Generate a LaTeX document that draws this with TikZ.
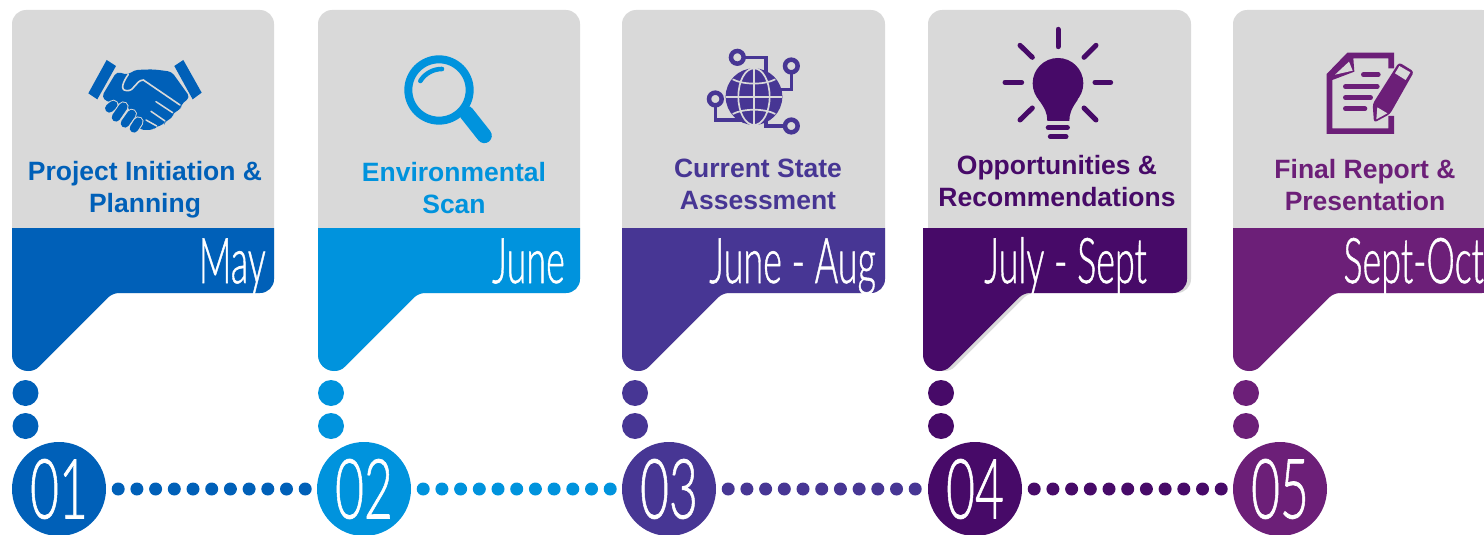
\documentclass[tikz,border=0pt]{standalone}
\usepackage{fontspec}
\usepackage{graphicx}
\setmainfont{Liberation Sans}
\newfontfamily\thinfont[FakeBold=1]{Lato Light}
\usepackage{xcolor}
\usepackage{tikz}
\definecolor{panelgray}{HTML}{D9D9D9}
\definecolor{stageA}{HTML}{0060B8}
\definecolor{stageB}{HTML}{0093DD}
\definecolor{stageC}{HTML}{473694}
\definecolor{stageD}{HTML}{470A68}
\definecolor{stageE}{HTML}{6C1F78}
\begin{document}
\begin{tikzpicture}[x=1pt,y=-1pt]
	\tikzstyle{titlenode}=[align=center,inner sep=0pt,font=\fontsize{26.5}{32}\selectfont\bfseries]
	\tikzstyle{monthnode}=[anchor=base east,inner sep=0pt,text=white,font=\fontsize{63}{63}\selectfont\thinfont]
	\tikzstyle{numnode}=[circle,minimum size=94pt,inner sep=0pt,text=white,font=\fontsize{83}{83}\selectfont\thinfont]
	\tikzstyle{beadnode}=[circle,minimum size=26pt,inner sep=0pt]
	\tikzstyle{dotline}=[line width=13pt,line cap=round,dash pattern=on 0pt off 18.7pt,shorten <=12pt,shorten >=10pt]
	\tikzstyle{iconzoom}=[x=.3333pt,y=-.3333pt]
	\useasboundingbox (0,0) rectangle (1484,535);
	% panels, beads and numbers
	\foreach \n/\gx/\gw/\bx/\bw/\bd/\nx/\col/\tx/\ty/\ttl/\mx/\mon in {
		1/12/262/12/262/25.5/59/stageA/145/190/{Project Initiation \&\\Planning}/266/May,
		2/318/262/318/262/331/364/stageB/454/188/{Environmental\\Scan}/565/June,
		3/622/263/622/263/635/669/stageC/758/184/{Current State\\Assessment}/876/June - Aug,
		4/928/263/923/264/941/975/stageD/1057/181/{Opportunities \&\\Recommendations}/1147/July - Sept,
		5/1233/263/1233/263/1246/1280/stageE/1365/185/{Final Report \&\\Presentation}/1484/Sept-Oct}
	{
		\fill[panelgray] (\gx,228) [rounded corners=14pt] -- (\gx,10) -- (\gx+\gw,10) -- (\gx+\gw,293) [rounded corners=6pt] -- (\gx+100.6,293) [sharp corners] -- (\gx+27.3,366.3) .. controls (\gx+24.4,369.6) and (\gx+20.4,371) .. (\gx+16,371) .. controls (\gx+7.2,371) and (\gx,363.8) .. (\gx,355) -- cycle;
		\fill[\col] (\bx,228) -- (\bx+\bw,228) [rounded corners=14pt] -- (\bx+\bw,293) [rounded corners=6pt] -- (\bx+100.6,293) [sharp corners] -- (\bx+27.3,366.3) .. controls (\bx+24.4,369.6) and (\bx+20.4,371) .. (\bx+16,371) .. controls (\bx+7.2,371) and (\bx,363.8) .. (\bx,355) -- cycle;
		\node[titlenode,text=\col] (title\n) at (\tx,\ty) {\ttl};
		\node[monthnode] (month\n) at (\mx,283) {\scalebox{.57}[1]{\mon}};
		\node[beadnode,fill=\col] (beadA\n) at (\bd,393) {};
		\node[beadnode,fill=\col] (beadB\n) at (\bd,426) {};
		\node[numnode,fill=\col] (num\n) at (\nx,489) {\scalebox{.6}[1]{0\n}};
	}
	\foreach \a/\b/\col in {1/2/stageA,2/3/stageB,3/4/stageC,4/5/stageD}
		\draw[dotline,\col] (num\a) -- (num\b);
	% handshake
	\begin{scope}[shift={(60,40)},iconzoom]
		\fill[stageA] (140,60) -- (168,78) -- (112,178) -- (85,160) -- cycle;
		\fill[stageA] (370,60) -- (425,158) -- (398,178) -- (343,78) -- cycle;
		\fill[stageA,rounded corners=4pt] (170,95) -- (205,105) -- (222,90) -- (280,88) -- (335,95) -- (390,172) -- (362,195) -- (362,210) -- (338,218) -- (338,235) -- (315,243) -- (312,255) -- (290,258) -- (280,270) -- (240,270) -- (200,195) -- (140,185) -- (125,170) -- cycle;
		\draw[panelgray,line width=1.6pt,line cap=round] (205,103) .. controls (190,125) and (178,150) .. (200,152) .. controls (225,154) and (225,122) .. (250,120) -- (360,195);
		\draw[panelgray,line width=1.5pt,line cap=round] (288,185) -- (338,218) (273,214) -- (315,243) (258,240) -- (290,258);
		\foreach \xa/\ya/\xb/\yb in {148/205/160/195,168/232/190/200,195/250/215/222,222/265/235/245}
		{
			\draw[panelgray,line width=10.6pt,line cap=round] (\xa,\ya) -- (\xb,\yb);
			\draw[stageA,line width=8.6pt,line cap=round] (\xa,\ya) -- (\xb,\yb);
		}
	\end{scope}
	% magnifier
	\begin{scope}[shift={(395,45)},iconzoom]
		\draw[stageB,line width=15pt,line cap=round] (215,205) -- (268,272);
		\fill[panelgray] (132,135) circle[radius=92];
		\draw[stageB,line width=8pt] (132,135) circle[radius=92];
		\draw[stageB,line width=4.6pt,line cap=round] (76,108) .. controls (90,85) and (115,72) .. (141,72);
	\end{scope}
	% globe
	\begin{scope}[shift={(690,30)},iconzoom]
		\fill[stageC] (192,200) circle[radius=85];
		\draw[panelgray,line width=1.7pt] (192,115) -- (192,285) (108,200) -- (276,200);
		\draw[panelgray,line width=1.7pt] (192,200) ellipse[x radius=47,y radius=85];
		\draw[panelgray,line width=1.7pt] (128,148) .. controls (160,165) and (224,165) .. (256,148);
		\draw[panelgray,line width=1.7pt] (128,252) .. controls (160,235) and (224,235) .. (256,252);
		\draw[stageC,line width=3.2pt] (160,82) -- (228,82) -- (228,125);
		\draw[stageC,line width=3.2pt] (304,128) -- (304,178) -- (272,178);
		\draw[stageC,line width=3.2pt] (76,227) -- (76,270) -- (160,270);
		\draw[stageC,line width=3.2pt] (284,288) -- (228,288) -- (228,272);
		\foreach \xa/\ya in {142/82,304/108,76/207,304/288}
			\draw[stageC,line width=4.5pt,fill=panelgray] (\xa,\ya) circle[radius=19];
	\end{scope}
	% bulb
	\begin{scope}[shift={(990,20)},iconzoom]
		\foreach \xa/\ya/\xb/\yb in {204/28/204/80,90/76/127/112,318/76/282/112,45/187/95/187,315/187/362/187,90/300/127/264,318/300/282/264}
			\draw[stageD,line width=5pt,line cap=round] (\xa,\ya) -- (\xb,\yb);
		\fill[stageD] (204,190) circle[radius=76];
		\fill[stageD] (145,238) .. controls (165,265) and (172,280) .. (172,303) -- (238,303) .. controls (238,280) and (245,265) .. (264,238) -- cycle;
		\draw[stageD,line width=5.2pt,line cap=round] (175,323) -- (232,323);
		\draw[stageD,line width=5pt,line cap=round] (181,350) -- (228,350);
	\end{scope}
	% report
	\begin{scope}[shift={(1300,30)},iconzoom]
		\fill[stageE] (142,68) -- (282,68) -- (282,115) -- (265,115) -- (265,85) -- (160,85) -- (163,125) -- (97,150) -- (97,295) -- (265,295) -- (265,258) -- (282,258) -- (282,312) -- (80,312) -- (80,132) -- cycle;
		\fill[panelgray] (105,134) -- (147,95) -- (158,122) -- cycle;
		\foreach \xa/\xb/\ya in {190/235/134,136/232/170,136/212/203,136/195/236}
			\draw[stageE,line width=4.6pt,line cap=round] (\xa,\ya) -- (\xb,\ya);
		\fill[stageE,rounded corners=3pt] (297,97) -- (342,125) -- (270,252) -- (222,278) -- (218,222) -- cycle;
		\fill[panelgray] (298,108) -- (331,127) -- (317,150) -- (285,130) -- cycle;
		\fill[panelgray] (232,232) -- (262,250) -- (229,268) -- cycle;
	\end{scope}
\end{tikzpicture}
\end{document}
